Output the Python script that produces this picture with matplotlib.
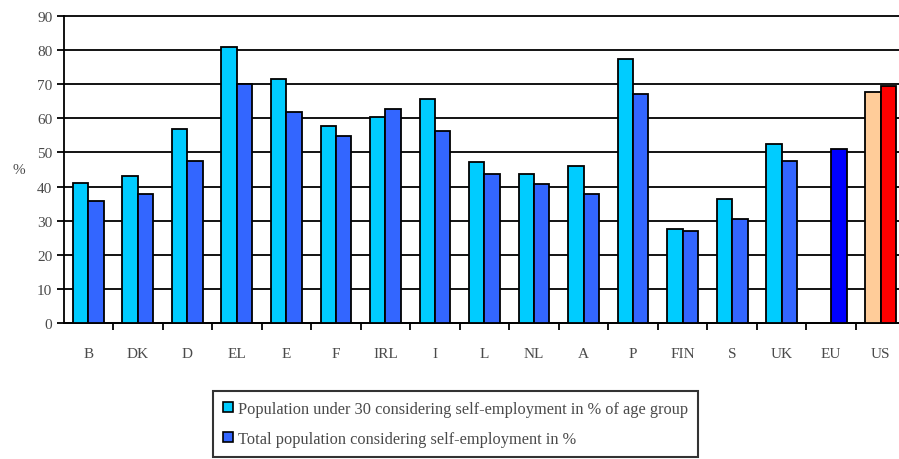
import matplotlib
matplotlib.use("Agg")
import matplotlib.pyplot as plt
from matplotlib.patches import Patch
import numpy as np

countries = ["B", "DK", "D", "EL", "E", "F", "IRL", "I", "L", "NL", "A", "P",
             "FIN", "S", "UK", "EU", "US"]
under30 = [41, 43, 57, 81, 71.5, 57.7, 60.5, 65.7, 47.3, 43.6, 46, 77.3,
           27.7, 36.4, 52.6, None, 67.8]
total = [35.7, 37.9, 47.4, 70, 62, 54.8, 62.8, 56.2, 43.8, 40.7, 37.9, 67,
         27, 30.6, 47.4, 51, 69.5]

light_colors = ["#00CCFF"] * 16 + ["#FFCC99"]
dark_colors = ["#3366FF"] * 15 + ["#0000FF", "#FF0000"]

label_under30 = "Population under 30 considering self-employment in % of age group"
label_total = "Total population considering self-employment in %"

plt.rcParams["font.family"] = ["Liberation Serif", "DejaVu Serif"]
text_grey = "#4a4a4a"

fig = plt.figure(figsize=(8.99, 4.60), dpi=100)
ax = fig.add_axes([63.5 / 899, 136 / 460, 842 / 899, 307 / 460])

x = np.arange(len(countries))
w = 0.31
edge = dict(edgecolor="black", linewidth=1.3, zorder=3)

ux = [xi - w / 2 for xi, v in zip(x, under30) if v is not None]
uv = [v for v in under30 if v is not None]
uc = [c for c, v in zip(light_colors, under30) if v is not None]
ax.bar(ux, uv, width=w, color=uc, **edge)
ax.bar(x + w / 2, total, width=w, color=dark_colors, **edge)

ax.set_xlim(-0.5, len(countries) - 0.5)
ax.set_ylim(0, 90)
ax.set_yticks(np.arange(0, 91, 10))
ax.yaxis.grid(True, color="black", linewidth=1.3, zorder=0)
for gl in ax.get_ygridlines():
    gl.set_clip_on(False)
ax.set_axisbelow(True)

ax.set_xticks(x)
ax.set_xticklabels(countries, fontsize=11, color=text_grey)
ax.set_xticks(np.arange(0.5, len(countries) - 0.5, 1), minor=True)
ax.tick_params(axis="x", which="major", length=0, pad=17)
ax.tick_params(axis="x", which="minor", length=5, width=1.3, direction="out")
ax.tick_params(axis="y", length=5, width=1.3, direction="out",
               labelsize=11, labelcolor=text_grey, pad=3)

for s in ["top", "right"]:
    ax.spines[s].set_visible(False)
ax.spines["left"].set_linewidth(1.3)
ax.spines["bottom"].set_linewidth(1.3)

ax.set_ylabel("%", fontsize=11, color=text_grey, rotation=0,
              labelpad=13, va="center")

handles = [Patch(facecolor="#00CCFF", edgecolor="black", linewidth=1.2),
           Patch(facecolor="#3366FF", edgecolor="black", linewidth=1.2)]
leg = fig.legend(handles, [label_under30, label_total], loc="upper left",
                 bbox_to_anchor=(213 / 899, 1 - 392 / 460), fontsize=11.8,
                 frameon=True, fancybox=False, edgecolor="black",
                 handlelength=0.6, handleheight=0.6, handletextpad=0.35,
                 labelspacing=0.85, borderpad=0.6, borderaxespad=0)
leg.get_frame().set_linewidth(1.5)
for t in leg.get_texts():
    t.set_color(text_grey)

fig.savefig("out.png", dpi=100)
